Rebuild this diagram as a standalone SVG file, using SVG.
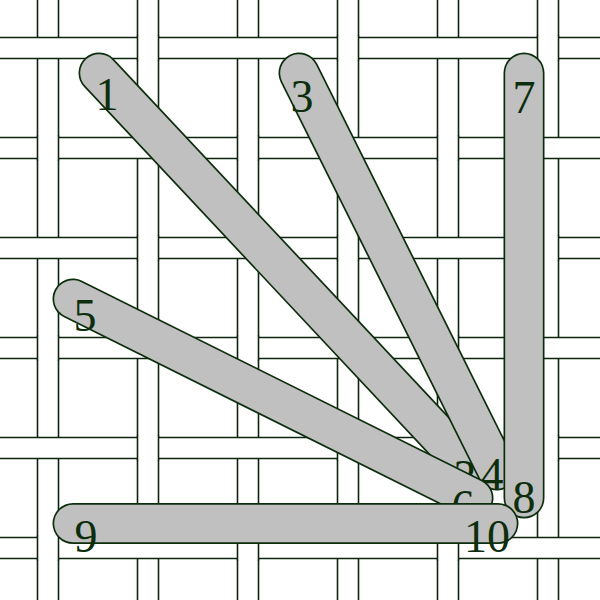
<svg xmlns="http://www.w3.org/2000/svg" width="600" height="600" viewBox="0 0 600 600">
<style>
.gl{stroke:#0f240f;stroke-width:1.6;fill:none}
.band{fill:#ffffff}
.o{stroke:#0c2e0c;stroke-width:41;stroke-linecap:round;fill:none}
.f{stroke:#c0c0c0;stroke-width:37.6;stroke-linecap:round;fill:none}
.lbl{font-family:"Liberation Serif","Times New Roman",serif;font-size:46px;fill:#0c2e0c;text-anchor:middle}
</style>
<defs>
<g id="vo">
<rect x="0" y="-1.5" width="21" height="24" fill="#ffffff"/>
<path d="M0,-2V23M21,-2V23" class="gl"/>
</g>
</defs>
<rect x="0" y="0" width="600" height="600" fill="#ffffff"/>
<g id="canvas">
<path class="gl" d="M37.5,0V600M58.5,0V600M137.5,0V600M158.5,0V600M237.5,0V600M258.5,0V600M337.5,0V600M358.5,0V600M437.5,0V600M458.5,0V600M537.5,0V600M558.5,0V600"/>
<rect class="band" x="0" y="37.5" width="600" height="21"/>
<rect class="band" x="0" y="137.5" width="600" height="21"/>
<rect class="band" x="0" y="237.5" width="600" height="21"/>
<rect class="band" x="0" y="337.5" width="600" height="21"/>
<rect class="band" x="0" y="437.5" width="600" height="21"/>
<rect class="band" x="0" y="537.5" width="600" height="21"/>
<path class="gl" d="M0,37.5H600M0,58.5H600M0,137.5H600M0,158.5H600M0,237.5H600M0,258.5H600M0,337.5H600M0,358.5H600M0,437.5H600M0,458.5H600M0,537.5H600M0,558.5H600"/>
<use href="#vo" x="137.5" y="37.5"/><use href="#vo" x="337.5" y="37.5"/><use href="#vo" x="537.5" y="37.5"/>
<use href="#vo" x="37.5" y="137.5"/><use href="#vo" x="237.5" y="137.5"/><use href="#vo" x="437.5" y="137.5"/>
<use href="#vo" x="137.5" y="237.5"/><use href="#vo" x="337.5" y="237.5"/><use href="#vo" x="537.5" y="237.5"/>
<use href="#vo" x="37.5" y="337.5"/><use href="#vo" x="237.5" y="337.5"/><use href="#vo" x="437.5" y="337.5"/>
<use href="#vo" x="137.5" y="437.5"/><use href="#vo" x="337.5" y="437.5"/><use href="#vo" x="537.5" y="437.5"/>
<use href="#vo" x="37.5" y="537.5"/><use href="#vo" x="237.5" y="537.5"/><use href="#vo" x="437.5" y="537.5"/>
</g>
<g id="stitches">
<g id="stitch-1-2">
<line class="o" x1="99" y1="73" x2="472" y2="471"/>
<line class="f" x1="99" y1="73" x2="472" y2="471"/>
<text class="lbl" x="465" y="492">2</text>
<text class="lbl" x="107" y="110">1</text>
</g>
<g id="stitch-3-4">
<line class="o" x1="299" y1="73" x2="497" y2="470"/>
<line class="f" x1="299" y1="73" x2="497" y2="470"/>
<text class="lbl" x="302" y="112">3</text>
<text class="lbl" x="492" y="490">4</text>
</g>
<g id="stitch-5-6">
<line class="o" x1="73" y1="299" x2="473" y2="498"/>
<line class="f" x1="73" y1="299" x2="473" y2="498"/>
<text class="lbl" x="85" y="331">5</text>
<text class="lbl" x="463" y="522">6</text>
</g>
<g id="stitch-7-8">
<line class="o" x1="524" y1="73" x2="524" y2="498"/>
<line class="f" x1="524" y1="73" x2="524" y2="498"/>
<text class="lbl" x="524" y="113">7</text>
<text class="lbl" x="524" y="513">8</text>
</g>
<g id="stitch-9-10">
<line class="o" x1="73" y1="523.5" x2="498" y2="523.5"/>
<line class="f" x1="73" y1="523.5" x2="498" y2="523.5"/>
<text class="lbl" x="86" y="552">9</text>
<text class="lbl" x="487" y="552">10</text>
</g>
</g>
</svg>
